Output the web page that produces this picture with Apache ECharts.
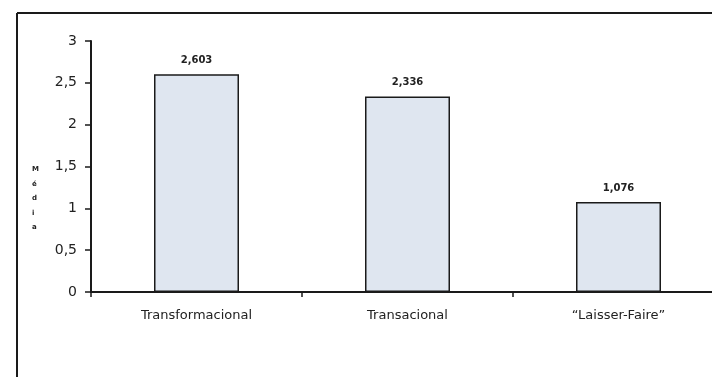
<!DOCTYPE html>
<html>
<head>
<meta charset="utf-8">
<script src="https://cdn.jsdelivr.net/npm/echarts@6/dist/echarts.min.js"></script>
<style>
  html, body { margin: 0; padding: 0; background: #fff; overflow: hidden; width: 712px; height: 377px; }
  /* the plot runs a little past the right edge of the page */
  #chart { width: 730px; height: 377px; }
</style>
</head>
<body>
<div id="chart"></div>
<script>
// Leadership styles and their mean scores
const categories = ['Transformacional', 'Transacional', '\u201CLaisser-Faire\u201D'];
const means = [2.603, 2.336, 1.076];
const yTicks = [0, 0.5, 1, 1.5, 2, 2.5, 3];

const fontFamily = '"DejaVu Sans", "Noto Sans", sans-serif';
const fmt = v => String(v).replace('.', ',');

const chart = echarts.init(document.getElementById('chart'), null, { renderer: 'canvas' });

chart.setOption({
  animation: false,
  backgroundColor: '#ffffff',
  grid: { left: 91, top: 41, width: 633, height: 251, containLabel: false },
  graphic: [
    // page frame: top and left rules
    { type: 'line', shape: { x1: 17, y1: 13, x2: 730, y2: 13 }, style: { stroke: '#1a1a1a', lineWidth: 2 } },
    { type: 'line', shape: { x1: 17, y1: 13, x2: 17, y2: 377 }, style: { stroke: '#1a1a1a', lineWidth: 2 } },
    // vertical axis title, one letter per line
    {
      type: 'text', left: 32, top: 162,
      style: {
        text: 'M\né\nd\ni\na', fill: '#222', font: 'bold 7px ' + fontFamily,
        lineHeight: 14.5, align: 'center'
      }
    }
  ],
  xAxis: {
    type: 'category',
    data: categories,
    axisLine: { lineStyle: { color: '#1a1a1a', width: 2 } },
    axisTick: { show: true, inside: false, length: 5, lineStyle: { color: '#1a1a1a', width: 1.5 } },
    axisLabel: { color: '#222', fontFamily, fontSize: 13, margin: 17 }
  },
  yAxis: {
    type: 'value',
    min: 0, max: 3, interval: 0.5,
    axisLine: { show: true, lineStyle: { color: '#1a1a1a', width: 2 } },
    axisTick: { show: true, length: 6, lineStyle: { color: '#1a1a1a', width: 1.5 } },
    splitLine: { show: false },
    axisLabel: {
      color: '#222', fontFamily, fontSize: 14, margin: 14,
      formatter: v => yTicks.includes(v) ? fmt(v) : ''
    }
  },
  series: [{
    type: 'bar',
    data: means,
    barWidth: 85,
    itemStyle: { color: '#dfe6f0', borderColor: '#1a1a1a', borderWidth: 1.5 },
    label: {
      show: true, position: 'top', distance: 9,
      color: '#222', fontFamily, fontSize: 10, fontWeight: 'bold',
      formatter: p => fmt(p.value)
    }
  }]
});
</script>
</body>
</html>
